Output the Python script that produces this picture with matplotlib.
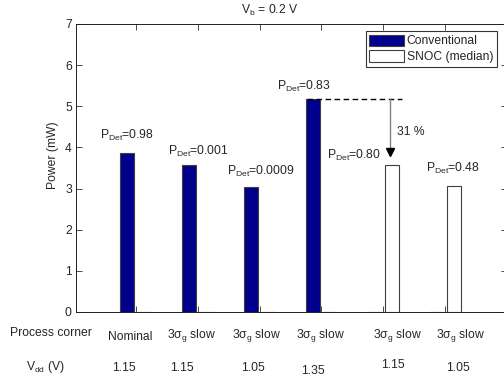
import numpy as np
import matplotlib.pyplot as plt

# values
groups = [1, 2, 3, 4, 5, 6]
conventional = [3.87, 3.57, 3.05, 5.17, 0, 0]
snoc = [0, 0, 0, 0, 3.57, 3.07]
p_det = ['0.98', '0.001', '0.0009', '0.83', '0.80', '0.48']
corners = ['Nominal', r'3$\sigma_{\mathrm{g}}$ slow', r'3$\sigma_{\mathrm{g}}$ slow',
           r'3$\sigma_{\mathrm{g}}$ slow', r'3$\sigma_{\mathrm{g}}$ slow', r'3$\sigma_{\mathrm{g}}$ slow']
vdd = ['1.15', '1.15', '1.05', '1.35', '1.15', '1.05']
reduction = '31 %'

plt.rcParams['font.family'] = ['Liberation Sans', 'DejaVu Sans']
plt.rcParams['mathtext.fontset'] = 'custom'
plt.rcParams['mathtext.rm'] = 'Liberation Sans'
plt.rcParams['mathtext.it'] = 'Liberation Sans'
plt.rcParams['mathtext.sf'] = 'Liberation Sans'
fs = 8.7
tc = '#262626'

W, H = 504, 379
fig = plt.figure(figsize=(W/100, H/100), dpi=100)
ax = fig.add_axes([76/W, (H-312)/H, (506.8-76)/W, 288/H])

x = np.array(groups)
off, bw = 0.14, 0.23
ax.bar(x - off, conventional, bw, color='#00008c', edgecolor='#404040', lw=0.8,
       label='Conventional')
ax.bar(x + off, snoc, bw, color='white', edgecolor='#404040', lw=0.8,
       label='SNOC (median)')

ax.set_xlim(0.03, 7.0)
ax.set_ylim(0, 7)
ax.set_xticks(groups)
ax.set_xticklabels([])
ax.set_yticks(range(8))
ax.tick_params(direction='in', top=True, right=True, length=4, width=0.6,
               labelsize=fs, colors='#303030', labelcolor=tc, pad=3)
for s in ax.spines.values():
    s.set_linewidth(0.7)
    s.set_color('#202020')
ax.spines['right'].set_visible(False)

# P_Det labels
lab_pos = [(0.42, 4.20), (1.52, 3.83), (2.47, 3.34), (3.28, 5.41), (4.09, 3.71), (5.69, 3.41)]
for (lx, ly), p in zip(lab_pos, p_det):
    ax.text(lx, ly, r'P$_{\mathrm{Det}}$=' + p, fontsize=fs, color=tc, va='baseline')

# dashed reference line and arrow
top = conventional[3]
ax.plot([3.76, 5.30], [top, top], color='black', ls='--', lw=1.0, dashes=(4, 2.5))
ax.plot([5.11, 5.11], [top, 3.95], color='#808080', lw=1.0)
ax.plot([5.11], [3.9], marker='v', color='black', ms=5.5)
ax.text(5.22, 4.37, reduction, fontsize=fs, color=tc, va='center')

leg = ax.legend(loc='upper right', bbox_to_anchor=(0.977, 0.976), fontsize=fs,
                frameon=True, fancybox=False, edgecolor='black', handlelength=2.9,
                handleheight=1.1, borderpad=0.3, labelspacing=0.25, handletextpad=0.2,
                borderaxespad=0)
leg.get_frame().set_linewidth(0.8)
for t in leg.get_texts():
    t.set_color(tc)

fig.text(270/W, 1-10/H, r'V$_{\mathrm{b}}$ = 0.2 V', fontsize=fs, color=tc,
         ha='center', va='center')
fig.text(53/W, 1-155/H, 'Power (mW)', fontsize=fs, color=tc, rotation=90,
         ha='center', va='center')

# row labels under the axis
fig.text(51/W, 1-333/H, 'Process corner', fontsize=fs, color=tc, ha='center', va='center')
fig.text(45/W, 1-367/H, r'V$_{\mathrm{dd}}$ (V)', fontsize=fs, color=tc, ha='center', va='center')
cx = [130, 191, 256, 320, 397, 460]
cy = [337, 335, 335, 335, 335, 335]
vx = [124, 182, 253, 313, 393, 458]
vy = [368, 368, 368, 371, 365, 368]
for i in range(len(groups)):
    fig.text(cx[i]/W, 1-cy[i]/H, corners[i], fontsize=fs, color=tc, ha='center', va='center')
    fig.text(vx[i]/W, 1-vy[i]/H, vdd[i], fontsize=fs, color=tc, ha='center', va='center')

fig.savefig('out.png', dpi=100)
